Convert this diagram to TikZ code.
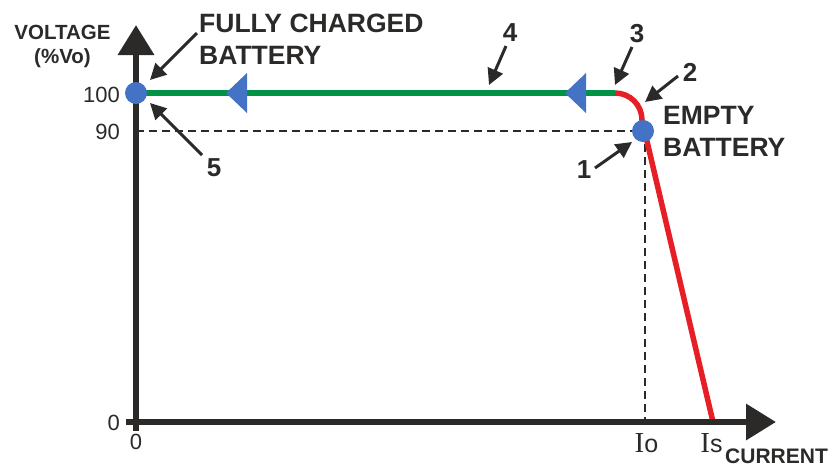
\documentclass[tikz,border=0pt]{standalone}
\usepackage{fontspec}
\setmainfont{Liberation Sans}
\newfontfamily\serifI{Liberation Serif}
\usetikzlibrary{arrows.meta}
\definecolor{ink}{RGB}{43,42,41}
\definecolor{grn}{RGB}{0,146,69}
\definecolor{rd}{RGB}{230,30,37}
\definecolor{blu}{RGB}{68,114,196}
\begin{document}
\begin{tikzpicture}[x=1pt,y=-1pt,
  axis/.style={ink, line width=6.5pt, -{Triangle[length=30pt,width=35pt]}},
  guide/.style={ink, line width=1.2pt, dash pattern=on 8pt off 5pt},
  dot/.style={circle, fill=blu, minimum size=22pt, inner sep=0pt},
  marker/.style={fill=blu, draw=none},
  ptr/.style={ink, line width=3pt, -{Triangle[length=16pt,width=16pt]}},
  big/.style={text=ink, inner sep=0pt, font=\bfseries\fontsize{26.5}{32}\selectfont, align=left},
  axlab/.style={text=ink, inner sep=0pt, font=\bfseries\fontsize{20.5}{24.5}\selectfont, align=center},
  tick/.style={text=ink, inner sep=0pt, font=\fontsize{22}{26}\selectfont},
  num/.style={text=ink, inner sep=0pt, font=\bfseries\fontsize{26}{30}\selectfont},
  cur/.style={text=ink, inner sep=0pt, anchor=base, font=\fontsize{25}{28}\selectfont}]
\useasboundingbox (0,0) rectangle (831,467);

% coordinates
\coordinate (ybot) at (136,431);
\coordinate (ytop) at (136,25);
\coordinate (xl) at (126,422);
\coordinate (xr) at (776,422);
\coordinate (g1) at (615,93);
\coordinate (g0) at (136,93);
\coordinate (r1) at (642,120);
\coordinate (r2) at (713,422);
\coordinate (h0) at (136,131);
\coordinate (h1) at (643,131);
\coordinate (v0) at (645,131);
\coordinate (v1) at (645,422);

% guides
\draw[guide] (h0) -- (h1);
\draw[guide] (v0) -- (v1);

% curve
\draw[grn, line width=6pt] (g1) -- (g0);
\draw[rd, line width=5.5pt, line join=round] (g1) .. controls (630,93) and (642,105) .. (r1) -- (r2);

% axes
\draw[axis] (ybot) -- (ytop);
\draw[axis] (xl) -- (xr);

% direction markers
\path[marker] (226,93) -- (247,73) -- (247,113) -- cycle;
\path[marker] (565,93) -- (586,73) -- (586,113) -- cycle;

% dots
\node[dot] (full) at (136,93) {};
\node[dot] (empty) at (643,131) {};

% labels
\node[axlab] (vlab) at (62.5,46.5) {VOLTAGE\\(\%Vo)};
\node[big, anchor=west] (fc) at (199,39.5) {FULLY CHARGED\\BATTERY};
\node[big, anchor=west] (eb) at (663,131.5) {EMPTY\\BATTERY};
\node[text=ink, inner sep=0pt, font=\bfseries\fontsize{21}{24}\selectfont, anchor=base west] (clab) at (725,463.5) {CURRENT};

\node[tick, anchor=base east] (t100) at (120,102) {100};
\node[tick, anchor=base east] (t90) at (120,139) {90};
\node[tick, anchor=east] (t0) at (120,422.5) {0};
\node[tick] (b0) at (136,441.5) {0};
\node[cur] (io) at (646.5,452) {{\serifI\fontsize{29}{30}\selectfont I}o};
\node[cur] (is) at (711.5,452) {{\serifI\fontsize{29}{30}\selectfont I}s};

\node[num] (n1) at (584,170) {1};
\node[num] (n2) at (690,72) {2};
\node[num] (n3) at (637,34) {3};
\node[num] (n4) at (510,33) {4};
\node[num] (n5) at (214,168) {5};

% pointer arrows
\coordinate (fcT) at (197,33);  \coordinate (fcH) at (150,80);
\coordinate (a5T) at (202,155); \coordinate (a5H) at (150,103);
\coordinate (a4T) at (506,46);  \coordinate (a4H) at (489,85);
\coordinate (a3T) at (632,47);  \coordinate (a3H) at (615,85);
\coordinate (a2T) at (678,76);  \coordinate (a2H) at (645,102);
\coordinate (a1T) at (595,168); \coordinate (a1H) at (632,142);
\draw[ptr] (fcT) -- (fcH);
\draw[ptr] (a5T) -- (a5H);
\draw[ptr] (a4T) -- (a4H);
\draw[ptr] (a3T) -- (a3H);
\draw[ptr] (a2T) -- (a2H);
\draw[ptr] (a1T) -- (a1H);
\end{tikzpicture}
\end{document}
